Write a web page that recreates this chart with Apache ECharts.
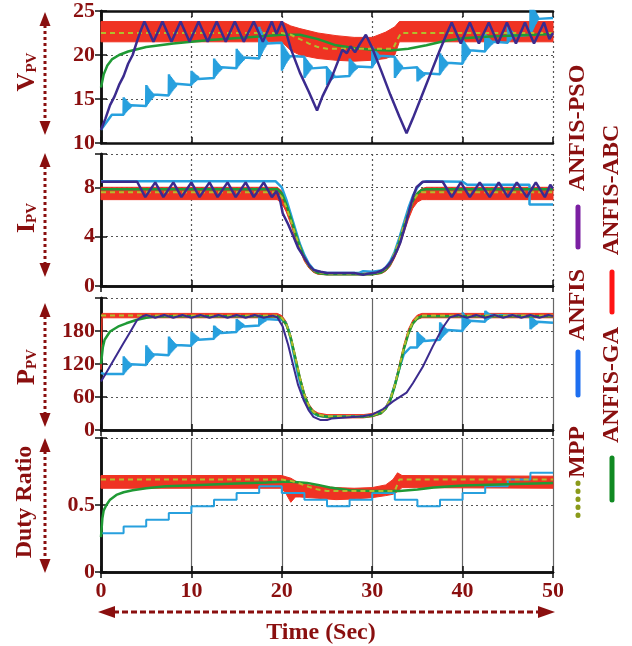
<!DOCTYPE html>
<html><head><meta charset="utf-8">
<script src="https://cdn.jsdelivr.net/npm/echarts@6/dist/echarts.min.js"></script>
<style>html,body{margin:0;padding:0;background:#fff}#c{width:632px;height:646px}</style>
</head><body><div id="c"></div>
<script>
// ---------- tick labels ----------
const T_TICKS = [0, 10, 20, 30, 40, 50];
const V_TICKS = [10, 15, 20, 25];
const I_TICKS = [0, 4, 8];
const P_TICKS = [0, 60, 120, 180];
const D_TICKS = [0, 0.5];

// ---------- V_PV panel ----------
const vMPP = [[0,22.5],[20,22.5],[21,22.3],[22,21.8],[23,21.3],[24,20.9],[25,20.7],[32.3,20.7],[32.8,21.8],[33.2,22.5],[50,22.5]];
const vGA = [[0,16.3],[0.3,17.8],[0.7,18.8],[1.2,19.5],[2,20.0],[3,20.4],[5,20.9],[8,21.3],[12,21.7],[16,22.0],[20,22.3],[22,22.3],[24,21.8],[26,21.1],[28,20.8],[30,20.6],[32,20.5],[34,20.7],[36,21.1],[38,21.6],[40,21.9],[43,22.1],[50,22.4]];
const vABC_t  = [0, 20, 21, 22, 24, 26, 28, 30, 31.5, 32.5, 33, 50];
const vABC_lo = [21.5, 21.5, 20.5, 20.0, 19.6, 19.4, 19.3, 19.4, 19.6, 20.0, 21.5, 21.5];
const vABC_hi = [23.8, 23.8, 23.3, 23.0, 22.5, 22.2, 22.0, 22.0, 22.6, 23.2, 23.8, 23.8];
const vANFIS_start = [[0,11.5],[1.2,13.2]];
const vANFIS_stepT = [2.5,5,7.5,10,12.5,15,17.5,20,22.5,25,27.5,30,32.5,35,37.5,40,42.5,45,47.5];
const vANFIS_lv = [13.2,14.2,15.4,16.6,17.4,18.5,19.6,21.4,19.8,18.6,17.6,18.6,19.8,18.6,17.8,19.0,20.4,21.4,22.3,24.2];
const vPSO = [[0,11.5],[0.5,12.8],[1,14.3],[1.5,15.3],[2,16.6],[2.5,17.6],[3,19.0],[3.5,20.0],[4,21.6],[4.4,22.8],[4.8,23.8],[5.8,21.5],[6.8,23.8],[7.8,21.5],[8.8,23.8],[9.8,21.5],[10.8,23.8],[11.8,21.5],[12.8,23.8],[13.8,21.5],[14.8,23.8],[15.8,21.5],[16.9,23.8],[17.9,21.5],[18.9,23.8],[19.4,22.4],[20.0,23.8],[20.5,22.5],[21,20.7],[22,18],[23,15.8],[23.9,13.7],[24.5,15.3],[25.5,17.4],[26.3,19.5],[26.7,20.6],[27.2,20.2],[27.6,21.0],[28.1,20.3],[28.6,21.2],[29.3,22.3],[30,20.8],[31,18.2],[32,15.5],[33,13],[33.8,11.1],[34.5,12.8],[35.5,15.4],[36.5,18],[37.5,20.6],[38.2,22.3],[38.8,23.7],[39.8,21.3],[40.8,23.7],[41.8,21.3],[42.9,23.7],[43.9,21.3],[44.9,23.7],[45.9,21.3],[46.9,23.7],[47.9,21.3],[49.0,23.7],[49.6,21.8],[50,22.5]];

// ---------- I_PV panel ----------
const iMPP = [[0,7.6],[19.5,7.6],[20,7.2],[20.5,6.4],[21,5.3],[21.5,4.2],[22,3.1],[22.5,2.2],[23,1.6],[23.5,1.25],[24,1.1],[25,1.0],[30,1.0],[31,1.15],[31.5,1.4],[32,1.9],[32.5,2.7],[33,3.7],[33.5,4.9],[34,6.0],[34.5,6.9],[35,7.4],[35.5,7.6],[50,7.6]];
const iGA = [[0,7.85],[19.5,7.85],[20,7.5],[20.5,6.6],[21,5.5],[21.5,4.3],[22,3.2],[22.5,2.3],[23,1.65],[23.5,1.25],[24,1.05],[25,0.95],[30,0.95],[31,1.1],[31.5,1.35],[32,1.8],[32.5,2.6],[33,3.6],[33.5,4.8],[34,5.9],[34.5,6.9],[35,7.5],[35.5,7.8],[36,7.85],[50,7.85]];
const iABC_t  = [0,19.5,20,20.5,21,21.5,22,22.5,23,23.5,24,25,30,31,31.5,32,32.5,33,33.5,34,34.5,35,35.5,36,50];
const iABC_lo = [7.0,7.0,6.7,6.0,5.0,3.9,2.9,2.0,1.45,1.1,0.95,0.9,0.9,1.0,1.2,1.6,2.3,3.2,4.3,5.4,6.3,6.8,7.0,7.0,7.0];
const iABC_hi = [8.0,8.0,7.7,7.0,5.8,4.6,3.5,2.5,1.8,1.35,1.15,1.05,1.05,1.2,1.45,1.9,2.7,3.8,4.9,6.0,6.9,7.6,7.9,8.0,8.0];
const iANFIS = [[0,8.5],[19.3,8.5],[20,8.0],[20.5,7.0],[21,5.8],[21.5,4.6],[22,3.4],[22.5,2.5],[23,1.8],[23.5,1.35],[24,1.15],[25,1.05],[28.5,1.05],[29,1.2],[30,1.15],[31,1.25],[31.5,1.5],[32,2.0],[32.5,2.8],[33,3.9],[33.5,5.1],[34,6.3],[34.5,7.3],[35,8.0],[35.5,8.4],[36,8.5],[40,8.45],[40.5,8.2],[47.4,8.2],[47.4,6.6],[50,6.6]];
const iPSO = [[0,8.45],[4.0,8.45],[4.9,7.2],[6.0,8.4],[6.9,7.2],[8.0,8.4],[8.9,7.2],[10.0,8.4],[10.9,7.2],[12.0,8.4],[12.9,7.2],[14.0,8.4],[14.9,7.2],[16.0,8.4],[16.9,7.2],[18.0,8.4],[18.9,7.2],[19.4,7.7],[19.8,7.0],[20.1,5.9],[20.7,5.0],[21.3,4.0],[21.8,3.1],[22.4,2.4],[23.0,1.7],[23.5,1.3],[24.3,1.15],[25,1.05],[28,1.05],[29,0.9],[29.5,1.0],[30.5,1.1],[31.2,1.3],[31.8,1.7],[32.2,2.1],[32.7,2.8],[33.1,3.5],[33.7,5.0],[34.2,6.4],[34.6,7.4],[34.9,8.0],[35.6,8.45],[37.8,8.45],[38.8,7.2],[39.8,8.4],[40.8,7.2],[41.9,8.4],[43.0,7.2],[44.0,8.4],[45.0,7.2],[46.0,8.4],[47.1,7.2],[48.1,8.4],[49.1,7.2],[49.7,8.2],[50,7.9]];

// ---------- P_PV panel ----------
const pMPP = [[0,208],[19.5,208],[20,204],[20.5,193],[21,168],[21.5,132],[22,95],[22.5,64],[23,44],[23.5,33],[24,28],[25,25],[29,25],[30,27],[31,32],[31.5,40],[32,56],[32.5,82],[33,115],[33.5,150],[34,178],[34.5,196],[35,205],[35.5,208],[50,208]];
const pGA = [[0,120],[0.2,150],[0.4,164],[1,179],[2,189],[2.8,194],[3.9,200],[5,204],[6,206.5],[8,207],[19.5,207],[20,203],[20.5,192],[21,167],[21.5,131],[22,94],[22.5,63],[23,43],[23.5,32],[24,27],[25,24],[29,24],[30,26],[31,31],[31.5,39],[32,54],[32.5,80],[33,112],[33.5,147],[34,175],[34.5,194],[35,203],[35.5,207],[50,207]];
const pABC_t  = [0,0.12,19.5,20,20.5,21,21.5,22,22.5,23,23.5,24,25,29,30,31,31.5,32,32.5,33,33.5,34,34.5,35,35.5,50];
const pABC_lo = [110,204,204,200,189,164,128,91,60,41,30,25,22,22,24,29,37,52,78,110,145,173,192,201,204,204];
const pABC_hi = [120,212,212,208,197,172,136,99,68,47,36,31,28,28,30,35,43,60,86,120,155,183,200,209,212,212];
const pANFIS_start = [[0,104],[0.3,102]];
const pANFIS_stepT1 = [2.5,5,7.5,10,12.5,15,17.5];
const pANFIS_lv1 = [102,118,136,153,166,178,190,200];
const pANFIS_mid = [[20,200],[20.4,196],[20.8,180],[21.3,140],[21.8,100],[22.3,68],[22.8,45],[23.3,32],[24,26],[25,24],[29,25],[30,27],[31,32],[31.5,40],[32,56],[32.5,82],[33,112],[33.5,138],[34.2,150]];
const pANFIS_stepT2 = [35,37.5,40,42.5,47.5];
const pANFIS_lv2 = [150,164,180,197,207,195];
const pPSO = [[0,88],[0.5,102],[1,116],[1.5,130],[2,144],[2.5,158],[3,172],[3.5,186],[4,200],[4.5,206],[5,209],[6,204],[7,209],[8,204],[9,209],[10,204],[11,209],[12,204],[13,209],[14,204],[15,209],[16,204],[17,209],[18,204],[19,208],[19.5,205],[20.1,188],[20.7,155],[21.3,115],[21.8,82],[22.4,55],[23,35],[23.5,24],[24.3,18],[25,18],[25.5,21],[29,25],[30,28],[31.2,38],[32.3,52],[33.8,68],[34.5,85],[35.6,115],[36.7,152],[37.8,186],[38.6,205],[39.5,209],[40.5,204],[41.5,209],[42.5,204],[43.5,209],[44.5,204],[45.5,209],[46.5,204],[47.5,209],[48.5,204],[49.5,209],[50,207]];

// ---------- Duty ratio panel ----------
const dMPP = [[0,0.69],[20,0.69],[21,0.68],[22,0.66],[23,0.635],[24,0.615],[25,0.605],[32.5,0.605],[33,0.69],[50,0.69]];
const dGA = [[0,0.26],[0.15,0.40],[0.3,0.46],[0.6,0.5],[1,0.54],[1.7,0.575],[2.5,0.595],[3.5,0.61],[5,0.625],[7.2,0.64],[11,0.65],[15,0.66],[18.3,0.667],[20.7,0.675],[22.8,0.665],[24,0.65],[25.3,0.63],[27.5,0.61],[30,0.605],[33,0.605],[35,0.615],[36.8,0.63],[40,0.645],[45,0.655],[50,0.665]];
const dABC_t  = [0,20,20.5,21,21.5,22,24,26,28,30,31.5,32.3,32.8,33.3,50];
const dABC_lo = [0.625,0.625,0.58,0.52,0.56,0.56,0.55,0.54,0.545,0.555,0.57,0.58,0.60,0.63,0.625];
const dABC_hi = [0.72,0.72,0.71,0.70,0.68,0.66,0.64,0.63,0.625,0.63,0.65,0.69,0.74,0.72,0.715];
const dANFIS = [[0,0.29],[2.5,0.34],[5,0.39],[7.5,0.44],[10,0.49],[12.5,0.54],[15,0.59],[17.5,0.64],[20,0.59],[22.5,0.54],[25,0.49],[27.5,0.54],[30,0.59],[32.5,0.54],[35,0.49],[37.5,0.54],[40,0.59],[42.5,0.64],[45,0.69],[47.5,0.74],[50,0.74]];

// ---------- styles ----------
const TXT = '#8a0f0f';
const FONT = '"Liberation Serif","Times New Roman",serif';
const C_MPP = '#b2be2c', C_GA = '#1f9a35', C_ANFIS = '#27a0de', C_ABC = '#ef3323', C_PSO = '#3b2b8e';
// transient "fan" drawn at each step of the ANFIS controller: [dt (s), fraction of the step size]
const FAN = [[0.02,1],[0.07,-0.92],[0.12,0.86],[0.17,-0.8],[0.22,0.74],[0.27,-0.68],[0.32,0.62],[0.37,-0.56],[0.42,0.5],[0.47,-0.45],[0.52,0.4],[0.57,-0.35],[0.62,0.3],[0.67,-0.25],[0.72,0.2],[0.77,-0.15],[0.82,0.1],[0.87,-0.05],[0.92,0]];

function fanSteps(start, stepT, lv, endT) {
  const pts = start.slice();
  for (let i = 0; i < stepT.length; i++) {
    const t = stepT[i], o = lv[i], n = lv[i + 1], a = n - o;
    pts.push([t, o]);
    FAN.forEach(f => pts.push([t + f[0], n + a * f[1]]));
  }
  if (endT != null) pts.push([endT, lv[lv.length - 1]]);
  return pts;
}
const vANFIS = fanSteps(vANFIS_start, vANFIS_stepT, vANFIS_lv, 50);
const pANFIS = fanSteps(pANFIS_start, pANFIS_stepT1, pANFIS_lv1, 20).concat(pANFIS_mid)
  .concat(fanSteps([[35, pANFIS_lv2[0]]], pANFIS_stepT2, pANFIS_lv2, 50).slice(1));

// ---------- layout ----------
const GRIDS = [
  {top: 11, height: 132, min: 10, max: 25, interval: 5, ticks: V_TICKS, vdot: true},
  {top: 154, height: 132, min: 0, max: 10.7, interval: 4, ticks: I_TICKS, vdot: true},
  {top: 298, height: 132, min: 0, max: 240, interval: 60, ticks: P_TICKS, vdot: false},
  {top: 438, height: 134, min: 0, max: 1, interval: 0.5, ticks: D_TICKS, vdot: false}
];
const grid = [], xAxis = [], yAxis = [];
const axLine = {show: true, lineStyle: {color: '#111', width: 2.5}};
const tick = {show: true, inside: true, length: 6, lineStyle: {color: '#111', width: 1.5}};
const lab = {fontFamily: FONT, fontWeight: 'bold', fontSize: 22, color: TXT};
GRIDS.forEach((g, k) => {
  grid.push({left: 101, width: 452, top: g.top, height: g.height, containLabel: false});
  xAxis.push({type: 'value', gridIndex: k, min: 0, max: 50, interval: 10, position: 'bottom',
    axisLine: axLine, axisTick: tick,
    axisLabel: Object.assign({show: k === 3, margin: 8, formatter: v => T_TICKS.includes(v) ? String(v) : ''}, lab),
    splitLine: {show: true, lineStyle: g.vdot ? {color: '#555', type: [2, 3], width: 1.2} : {color: '#666', width: 1.2}}});
  xAxis.push({type: 'value', gridIndex: k, min: 0, max: 50, interval: 10, position: 'top',
    axisLine: axLine, axisTick: tick, axisLabel: {show: false}, splitLine: {show: false}});
  yAxis.push({type: 'value', gridIndex: k, min: g.min, max: g.max, interval: g.interval, position: 'left',
    axisLine: axLine, axisTick: tick,
    axisLabel: Object.assign({margin: 6, formatter: v => g.ticks.some(t => Math.abs(t - v) < 1e-9) ? String(v) : ''}, lab),
    splitLine: {show: true, lineStyle: {color: '#555', type: [2, 3], width: 1.2}}});
  yAxis.push({type: 'value', gridIndex: k, min: g.min, max: g.max, interval: g.interval, position: 'right',
    axisLine: axLine, axisTick: tick, axisLabel: {show: false}, splitLine: {show: false}});
});

function band(k, t, lo, hi, color) {
  return {type: 'custom', xAxisIndex: 2 * k, yAxisIndex: 2 * k, silent: true, z: 2,
    data: [[t[0], lo[0]]],
    renderItem: (params, api) => {
      const pts = [];
      for (let j = 0; j < t.length; j++) pts.push(api.coord([t[j], hi[j]]));
      for (let j = t.length - 1; j >= 0; j--) pts.push(api.coord([t[j], lo[j]]));
      return {type: 'polygon', shape: {points: pts}, style: {fill: color, stroke: color, lineWidth: 1}};
    }};
}
function line(k, data, color, width, dash, extra) {
  return Object.assign({type: 'line', xAxisIndex: 2 * k, yAxisIndex: 2 * k, data: data, showSymbol: false,
    symbol: 'none', silent: true, z: 3,
    lineStyle: {color: color, width: width, type: dash || 'solid'}}, extra || {});
}
const series = [
  band(0, vABC_t, vABC_lo, vABC_hi, C_ABC),
  line(0, vANFIS, C_ANFIS, 2.5),
  line(0, vGA, C_GA, 2.5),
  line(0, vMPP, C_MPP, 2, [5, 4]),
  line(0, vPSO, C_PSO, 2.5),
  band(1, iABC_t, iABC_lo, iABC_hi, C_ABC),
  line(1, iANFIS, C_ANFIS, 2.5),
  line(1, iGA, C_GA, 2.5),
  line(1, iMPP, C_MPP, 2, [5, 4]),
  line(1, iPSO, C_PSO, 2.5),
  band(2, pABC_t, pABC_lo, pABC_hi, C_ABC),
  line(2, pANFIS, C_ANFIS, 2.5),
  line(2, pGA, C_GA, 2.5),
  line(2, pMPP, C_MPP, 2, [5, 4]),
  line(2, pPSO, C_PSO, 2),
  band(3, dABC_t, dABC_lo, dABC_hi, C_ABC),
  line(3, dANFIS, C_ANFIS, 2, null, {step: 'end'}),
  line(3, dGA, C_GA, 2.5),
  line(3, dMPP, C_MPP, 2, [5, 4])
];

// ---------- decorations (axis titles, arrows, legend) ----------
const graphic = [];
function vArrow(x, y1, y2) {
  graphic.push({type: 'line', shape: {x1: x, y1: y1 + 13, x2: x, y2: y2 - 13}, style: {stroke: TXT, lineWidth: 3, lineDash: [3, 3]}});
  graphic.push({type: 'polygon', shape: {points: [[x, y1], [x - 5.5, y1 + 14], [x + 5.5, y1 + 14]]}, style: {fill: TXT}});
  graphic.push({type: 'polygon', shape: {points: [[x, y2], [x - 5.5, y2 - 14], [x + 5.5, y2 - 14]]}, style: {fill: TXT}});
}
function hArrow(y, x1, x2) {
  graphic.push({type: 'line', shape: {x1: x1 + 15, y1: y, x2: x2 - 15, y2: y}, style: {stroke: TXT, lineWidth: 3, lineDash: [6, 3]}});
  graphic.push({type: 'polygon', shape: {points: [[x1, y], [x1 + 17, y - 6], [x1 + 17, y + 6]]}, style: {fill: TXT}});
  graphic.push({type: 'polygon', shape: {points: [[x2, y], [x2 - 17, y - 6], [x2 - 17, y + 6]]}, style: {fill: TXT}});
}
function rotText(x, y, text, size, rich) {
  graphic.push({type: 'text', x: x, y: y, rotation: Math.PI / 2,
    style: {text: text, fill: TXT, font: 'bold ' + size + 'px ' + FONT, align: 'center', verticalAlign: 'middle', rich: rich}});
}
const subRich = {
  a: {fontSize: 26, fontWeight: 'bold', fontFamily: FONT, fill: TXT, lineHeight: 28, verticalAlign: 'bottom'},
  b: {fontSize: 15, fontWeight: 'bold', fontFamily: FONT, fill: TXT, lineHeight: 28, verticalAlign: 'bottom'}
};
rotText(26, 72, '{a|V}{b|PV}', 26, subRich);
rotText(26, 218, '{a|I}{b|PV}', 26, subRich);
rotText(26, 367, '{a|P}{b|PV}', 26, subRich);
rotText(25, 502, 'Duty Ratio', 24);
vArrow(45, 12, 135);
vArrow(45, 153, 277);
vArrow(45, 303, 427);
vArrow(45, 438, 573);
hArrow(612, 98, 555);
graphic.push({type: 'text', x: 321, y: 633, style: {text: 'Time (Sec)', fill: TXT, font: 'bold 24px ' + FONT, align: 'center', verticalAlign: 'middle'}});

// legend (rotated)
const LEG_NAMES = ['ANFIS-PSO', 'ANFIS', 'MPP', 'ANFIS-ABC', 'ANFIS-GA'];
const LEG_COL = ['#7b1fa2', '#1e6ff0', '#8a9a1a', '#ff1414', '#108a22'];
const LEG_POS = [[578, 128, 207, 247], [578, 305, 352, 395], [578, 452, 483, 517], [612, 190, 272, 312], [612, 385, 458, 500]];
LEG_NAMES.forEach((n, i) => {
  const p = LEG_POS[i];
  rotText(p[0], p[1], n, 24);
  const dotted = n === 'MPP';
  graphic.push({type: 'line', shape: {x1: p[0], y1: p[2], x2: p[0], y2: p[3]},
    style: {stroke: LEG_COL[i], lineWidth: 5, lineCap: 'round', lineDash: dotted ? [0.5, 7.5] : null}});
});

const chart = echarts.init(document.getElementById('c'), null, {renderer: 'canvas'});
chart.setOption({animation: false, backgroundColor: '#fff', grid, xAxis, yAxis, series, graphic});
</script></body></html>
